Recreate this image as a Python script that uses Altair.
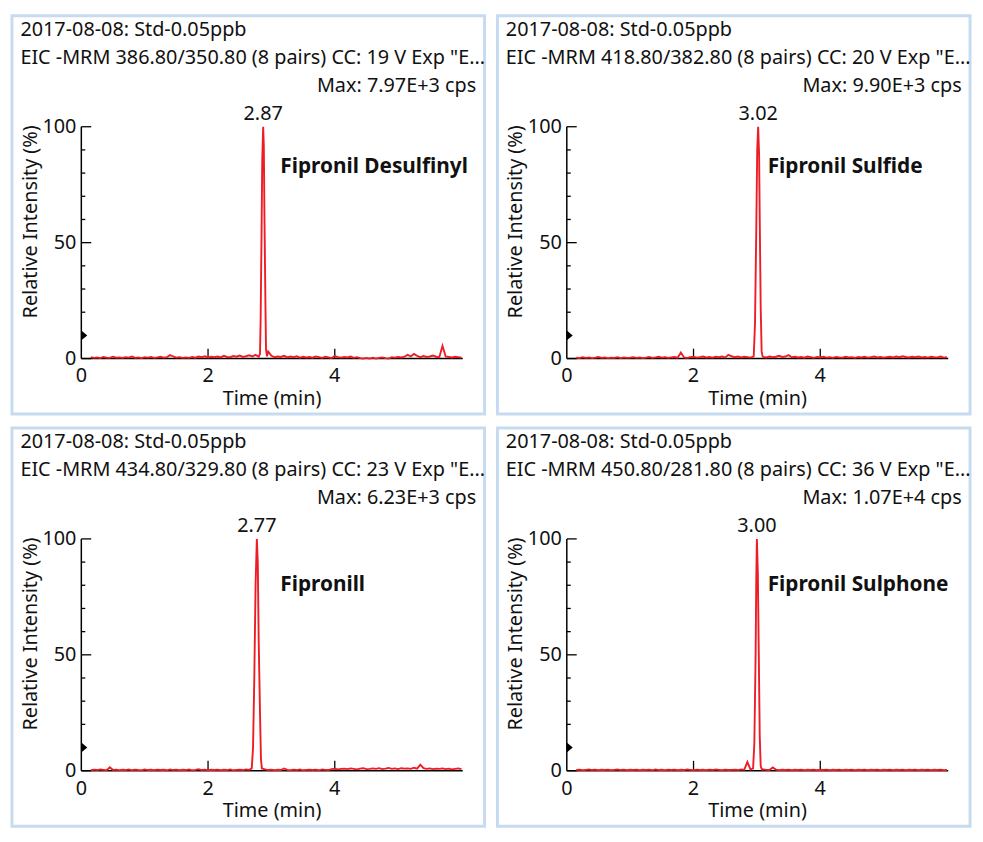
import altair as alt
import pandas as pd

# ---------------- data ----------------
# shared baseline sampling times (min)
base_t = [
    0.15, 0.20, 0.25, 0.30, 0.35, 0.40, 0.45, 0.50, 0.55, 0.60,
    0.65, 0.70, 0.75, 0.80, 0.85, 0.90, 0.95, 1.00, 1.05, 1.10,
    1.15, 1.20, 1.25, 1.30, 1.35, 1.40, 1.45, 1.50, 1.55, 1.60,
    1.65, 1.70, 1.75, 1.80, 1.85, 1.90, 1.95, 2.00, 2.05, 2.10,
    2.15, 2.20, 2.25, 2.30, 2.35, 2.40, 2.45, 2.50, 2.55, 2.60,
    2.65, 2.70, 2.75, 2.80, 2.85, 2.90, 2.95, 3.00, 3.05, 3.10,
    3.15, 3.20, 3.25, 3.30, 3.35, 3.40, 3.45, 3.50, 3.55, 3.60,
    3.65, 3.70, 3.75, 3.80, 3.85, 3.90, 3.95, 4.00, 4.05, 4.10,
    4.15, 4.20, 4.25, 4.30, 4.35, 4.40, 4.45, 4.50, 4.55, 4.60,
    4.65, 4.70, 4.75, 4.80, 4.85, 4.90, 4.95, 5.00, 5.05, 5.10,
    5.15, 5.20, 5.25, 5.30, 5.35, 5.40, 5.45, 5.50, 5.55, 5.60,
    5.65, 5.70, 5.75, 5.80, 5.85, 5.90, 5.95, 6.00,
]

# baseline relative intensities (%) per panel
base_desulfinyl = [
    0.6, 0.3, 0.5, 0.2, 0.7, 0.4, 0.3, 0.8, 0.4, 0.5,
    0.3, 0.6, 0.4, 0.9, 0.3, 0.5, 0.2, 0.6, 0.4, 0.7,
    0.3, 0.5, 0.8, 0.4, 0.6, 1.5, 0.9, 0.4, 0.6, 0.3,
    0.5, 0.3, 0.7, 0.4, 0.9, 0.6, 1.0, 0.5, 0.8, 0.6,
    0.9, 0.5, 1.2, 0.7, 0.6, 1.1, 0.8, 1.3, 0.7, 1.0,
    1.4, 0.9, 1.6, 0.0, 0.0, 0.0, 3.0, 1.2, 0.6, 0.9,
    0.7, 1.2, 0.5, 0.9, 0.6, 1.0, 0.4, 0.8, 0.5, 0.7,
    0.4, 0.9, 0.6, 0.3, 0.8, 0.5, 0.2, 1.1, 0.6, 0.4,
    0.7, 0.5, 0.9, 0.3, 0.6, 0.2, 0.0, 0.3, 0.0, 0.4,
    0.0, 0.3, 0.5, 0.2, 0.0, 0.6, 0.4, 0.7, 0.5, 0.8,
    1.6, 0.9, 2.0, 1.2, 0.6, 1.1, 0.7, 0.9, 1.3, 0.8,
    0.6, 5.5, 0.9, 0.7, 0.5, 0.8, 0.6, 0.4,
]
base_sulfide = [
    0.4, 0.2, 0.6, 0.3, 0.5, 0.2, 0.4, 0.7, 0.3, 0.5,
    0.2, 0.4, 0.3, 0.6, 0.2, 0.5, 0.3, 0.4, 0.6, 0.3,
    0.5, 0.2, 0.4, 0.7, 0.3, 0.5, 0.8, 0.4, 0.6, 0.3,
    0.5, 0.7, 0.4, 2.6, 0.5, 0.3, 0.6, 0.8, 0.4, 0.6,
    0.9, 0.5, 0.7, 0.4, 0.8, 0.6, 0.9, 0.5, 1.6, 1.0,
    0.6, 0.9, 0.5, 0.8, 0.6, 0.4, 0.0, 0.0, 0.0, 0.7,
    0.5, 0.9, 0.6, 0.8, 1.2, 0.7, 0.9, 1.5, 0.6, 0.8,
    0.5, 0.7, 0.4, 0.9, 0.6, 0.3, 0.7, 0.5, 0.8, 0.4,
    0.6, 0.3, 0.7, 0.5, 0.4, 0.8, 0.5, 0.6, 0.3, 0.7,
    0.5, 0.8, 0.4, 0.6, 0.9, 0.5, 0.7, 0.4, 0.6, 0.8,
    0.5, 0.9, 0.6, 1.0, 0.7, 0.5, 0.8, 0.6, 0.9, 0.5,
    0.7, 0.4, 0.8, 0.6, 0.5, 0.9, 0.4, 0.6,
]
base_fipronil = [
    0.2, 0.5, 0.3, 0.6, 0.4, 0.2, 1.5, 0.3, 0.5, 0.2,
    0.4, 0.3, 0.6, 0.2, 0.5, 0.3, 0.2, 0.6, 0.3, 0.4,
    0.2, 0.5, 0.3, 0.4, 0.2, 0.6, 0.3, 0.5, 0.2, 0.4,
    0.3, 0.6, 0.2, 0.4, 0.7, 0.3, 0.5, 0.2, 0.4, 0.3,
    0.5, 0.2, 0.4, 0.3, 0.6, 0.2, 0.4, 0.5, 0.3, 0.6,
    0.4, 0.0, 0.0, 0.0, 0.0, 0.6, 0.3, 0.5, 0.2, 0.4,
    0.3, 1.0, 0.4, 0.2, 0.5, 0.3, 0.6, 0.2, 0.4, 0.5,
    0.3, 0.5, 0.2, 0.6, 0.4, 0.3, 0.7, 0.9, 0.6, 0.8,
    0.9, 0.7, 1.0, 0.8, 0.6, 0.9, 1.1, 0.7, 0.8, 1.0,
    0.8, 1.1, 0.7, 0.9, 1.2, 0.8, 1.0, 0.7, 1.1, 0.9,
    1.0, 0.8, 1.3, 0.9, 2.6, 1.1, 0.8, 1.0, 0.7, 0.9,
    0.8, 1.0, 0.7, 0.9, 0.6, 0.8, 1.0, 0.7,
]
base_sulphone = [
    0.3, 0.5, 0.2, 0.4, 0.6, 0.3, 0.5, 0.2, 0.4, 0.3,
    0.5, 0.2, 0.4, 0.6, 0.3, 0.5, 0.2, 0.4, 0.3, 0.5,
    0.2, 0.4, 0.3, 0.5, 0.2, 0.6, 0.3, 0.4, 0.2, 0.5,
    0.3, 0.5, 0.2, 0.4, 0.3, 0.6, 0.4, 0.2, 0.5, 0.3,
    0.4, 0.2, 0.5, 0.3, 0.6, 0.4, 0.2, 0.5, 0.3, 0.4,
    0.5, 0.3, 0.6, 0.4, 3.8, 0.5, 0.0, 0.0, 0.0, 0.6,
    0.4, 0.3, 1.4, 0.5, 0.2, 0.4, 0.3, 0.5, 0.2, 0.4,
    0.3, 0.5, 0.2, 0.4, 0.3, 0.5, 0.2, 0.4, 0.3, 0.5,
    0.2, 0.4, 0.3, 0.5, 0.2, 0.4, 0.3, 0.5, 0.2, 0.4,
    0.3, 0.5, 0.2, 0.4, 0.3, 0.5, 0.2, 0.4, 0.3, 0.5,
    0.2, 0.4, 0.3, 0.5, 0.2, 0.4, 0.3, 0.5, 0.2, 0.4,
    0.3, 0.5, 0.2, 0.4, 0.3, 0.5, 0.2, 0.4,
]

# peak samples (min, %)
peak_desulfinyl_t = [2.80, 2.82, 2.83, 2.845, 2.855, 2.87, 2.88, 2.89, 2.905, 2.915, 2.93]
peak_desulfinyl_v = [0.8, 2.0, 17, 55, 85, 100, 92, 62, 25, 4, 1.0]
peak_sulfide_t = [2.95, 2.97, 2.99, 3.005, 3.02, 3.035, 3.045, 3.06, 3.075, 3.09]
peak_sulfide_v = [1.0, 15, 55, 90, 100, 88, 60, 22, 3, 1.0]
peak_fipronil_t = [2.69, 2.71, 2.73, 2.75, 2.77, 2.785, 2.80, 2.82, 2.835, 2.85]
peak_fipronil_v = [1.0, 10, 40, 80, 100, 90, 55, 25, 5, 1.0]
peak_sulphone_t = [2.94, 2.96, 2.98, 2.99, 3.00, 3.015, 3.03, 3.045, 3.06, 3.08]
peak_sulphone_v = [1.0, 12, 50, 82, 100, 85, 50, 15, 2, 0.5]

apex_t = [2.87, 3.02, 2.77, 3.00]
apex_labels = ["2.87", "3.02", "2.77", "3.00"]
compounds = ["Fipronil Desulfinyl", "Fipronil Sulfide", "Fipronill", "Fipronil Sulphone"]
compound_t = [3.14, 3.17, 3.14, 3.17]
compound_level = [82.5, 82.5, 80, 80]
sample_lines = ["2017-08-08: Std-0.05ppb"] * 4
eic_lines = [
    'EIC -MRM 386.80/350.80 (8 pairs) CC: 19 V Exp "E...',
    'EIC -MRM 418.80/382.80 (8 pairs) CC: 20 V Exp "E...',
    'EIC -MRM 434.80/329.80 (8 pairs) CC: 23 V Exp "E...',
    'EIC -MRM 450.80/281.80 (8 pairs) CC: 36 V Exp "E...',
]
max_lines = ["Max: 7.97E+3 cps", "Max: 9.90E+3 cps", "Max: 6.23E+3 cps", "Max: 1.07E+4 cps"]
x_title = "Time (min)"
y_title = "Relative Intensity (%)"
x_tick_values = [2, 4]
x_label_values = [0, 2, 4]
y_label_values = [0, 50, 100]
y_tick_values = [0, 10, 20, 30, 40, 50, 60, 70, 80, 90, 100]
marker_level = [10]

base_v = [base_desulfinyl, base_sulfide, base_fipronil, base_sulphone]
peaks_t = [peak_desulfinyl_t, peak_sulfide_t, peak_fipronil_t, peak_sulphone_t]
peaks_v = [peak_desulfinyl_v, peak_sulfide_v, peak_fipronil_v, peak_sulphone_v]

# ---------------- layout / style ----------------
W, H = 477, 402
X0, X1 = 70, 455          # pixel range of the time axis inside a panel
Y100, Y0 = 112, 346       # pixel range of the intensity axis inside a panel
T_MAX = 6.02
FONT = "Noto Sans"
FS_HEAD = 20
FS_TICK = 20
FS_TITLE = 20
RED = "#ee1c24"
INK = "#111111"
BORDER = "#c6dbef"

px_per_min = (X1 - X0) / T_MAX
px_per_pct = (Y0 - Y100) / 100.0

XS = alt.Scale(domain=[0, T_MAX], range=[X0, X1], nice=False, zero=False)
YS = alt.Scale(domain=[0, 100], range=[Y0, Y100], nice=False, zero=False)


def xenc(field):
    return alt.X(field, type="quantitative", scale=XS, axis=None)


def yenc(field):
    return alt.Y(field, type="quantitative", scale=YS, axis=None)


def text_at(s, x, y, **kw):
    style = dict(font=FONT, color=INK, baseline="middle")
    style.update(kw)
    return alt.Chart(pd.DataFrame({"s": [s]})).mark_text(**style).encode(
        x=alt.value(x), y=alt.value(y), text="s:N"
    )


def panel(i):
    pt, pv = peaks_t[i], peaks_v[i]
    rows = [(t, v) for t, v in zip(base_t, base_v[i]) if t < pt[0] or t > pt[-1]]
    rows += list(zip(pt, pv))
    df = pd.DataFrame(rows, columns=["t", "v"]).sort_values("t")

    # axis lines
    xdom = alt.Chart(pd.DataFrame({"t": [0.0], "t2": [T_MAX], "v": [0.0]})).mark_rule(
        color="black", strokeWidth=1.5
    ).encode(x=xenc("t"), x2="t2:Q", y=yenc("v"))
    ydom = alt.Chart(pd.DataFrame({"t": [0.0], "v": [0.0], "v2": [100.0]})).mark_rule(
        color="black", strokeWidth=1.5
    ).encode(x=xenc("t"), y=yenc("v"), y2="v2:Q")

    # inward ticks
    ydf = pd.DataFrame({
        "v": y_tick_values,
        "t": [0.0] * len(y_tick_values),
        "t2": [(10 if v in y_label_values else 4) / px_per_min for v in y_tick_values],
    })
    yticks = alt.Chart(ydf).mark_rule(color="black", strokeWidth=1.3).encode(
        x=xenc("t"), x2="t2:Q", y=yenc("v")
    )
    xdf = pd.DataFrame({
        "t": x_tick_values,
        "v": [0.0] * len(x_tick_values),
        "v2": [10 / px_per_pct] * len(x_tick_values),
    })
    xticks = alt.Chart(xdf).mark_rule(color="black", strokeWidth=1.3).encode(
        x=xenc("t"), y=yenc("v"), y2="v2:Q"
    )

    # tick labels
    ylab = alt.Chart(pd.DataFrame({"t": [0.0] * 3, "v": y_label_values})).mark_text(
        align="right", baseline="middle", dx=-5, fontSize=FS_TICK, font=FONT, color=INK
    ).encode(x=xenc("t"), y=yenc("v"), text=alt.Text("v:Q", format="d"))
    xlab = alt.Chart(pd.DataFrame({"t": x_label_values, "v": [0.0] * 3})).mark_text(
        align="center", baseline="top", dy=8, fontSize=FS_TICK, font=FONT, color=INK
    ).encode(x=xenc("t"), y=yenc("v"), text=alt.Text("t:Q", format="d"))

    # axis titles
    xtit = text_at(x_title, (X0 + X1) / 2, Y0 + 41, fontSize=FS_TITLE, align="center")
    ytit = text_at(y_title, 19, 208, fontSize=FS_TITLE, align="center", angle=270)

    line = alt.Chart(df).mark_line(color=RED, strokeWidth=1.9).encode(
        x=xenc("t"), y=yenc("v")
    )

    marker = alt.Chart(pd.DataFrame({"t": [0.0], "v": marker_level})).mark_point(
        shape="M0,-1L1.2,0L0,1Z", size=100, filled=True, color="black", opacity=1
    ).encode(x=xenc("t"), y=yenc("v"))

    apex = alt.Chart(pd.DataFrame({"t": [apex_t[i]], "v": [100], "s": [apex_labels[i]]})).mark_text(
        dy=-7, baseline="alphabetic", fontSize=FS_TICK, font=FONT, color=INK
    ).encode(x=xenc("t"), y=yenc("v"), text="s:N")

    name = alt.Chart(pd.DataFrame({"t": [compound_t[i]], "v": [compound_level[i]], "s": [compounds[i]]})).mark_text(
        align="left", baseline="middle", fontSize=21, fontWeight="bold", font=FONT, color=INK
    ).encode(x=xenc("t"), y=yenc("v"), text="s:N")

    h1 = text_at(sample_lines[i], 8.5, 14.5, fontSize=FS_HEAD, align="left")
    h2 = text_at(eic_lines[i], 8.5, 42.5, fontSize=FS_HEAD, align="left")
    h3 = text_at(max_lines[i], W - 8.5, 71, fontSize=FS_HEAD, align="right")

    return alt.layer(
        xdom, ydom, yticks, xticks, line, marker, ylab, xlab, xtit, ytit, apex, name, h1, h2, h3
    ).properties(width=W, height=H)


chart = alt.vconcat(
    alt.hconcat(panel(0), panel(1), spacing=8),
    alt.hconcat(panel(2), panel(3), spacing=8),
    spacing=10,
).properties(
    padding=2
).configure_view(
    stroke=BORDER, strokeWidth=3
)

chart.save("out.html", embed_options={"renderer": "svg", "actions": False})
